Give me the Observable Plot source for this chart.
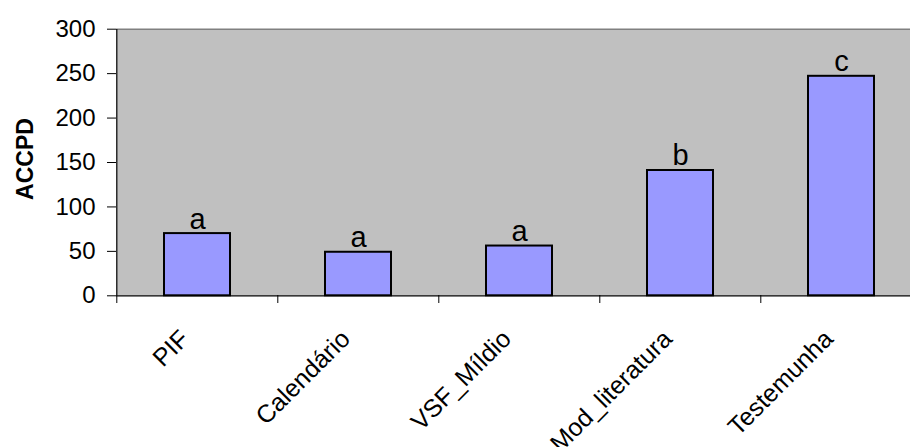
<!DOCTYPE html>
<html>
<head>
<meta charset="utf-8">
<script src="https://cdn.jsdelivr.net/npm/d3@7"></script>
<script src="https://cdn.jsdelivr.net/npm/@observablehq/plot@0.6"></script>
<style>
  html, body { margin: 0; padding: 0; background: #fff; overflow: hidden; }
  #chart svg { display: block; }
</style>
</head>
<body>
<div id="chart"></div>
<script>
const categories = ["PIF", "Calendário", "VSF_Míldio", "Mod_literatura", "Testemunha"];
const values = [70, 49, 56, 141, 247];
const letters = ["a", "a", "a", "b", "c"];
const yTicks = [0, 50, 100, 150, 200, 250, 300];

const data = categories.map((c, i) => ({cat: c, value: values[i], letter: letters[i]}));

const W = 910, H = 447;
const xRange = [115.5, 922.5];
const step = (xRange[1] - xRange[0]) / categories.length;
const font = "'Liberation Sans', Arial, sans-serif";

const chart = Plot.plot({
  width: W,
  height: H,
  marginLeft: 116,
  marginRight: 0,
  marginTop: 29,
  marginBottom: 152,
  style: {fontFamily: font, color: "black", background: "white", overflow: "hidden"},
  x: {domain: categories, range: xRange, paddingInner: 0.59, paddingOuter: 0.295, axis: null},
  y: {domain: [0, 300], range: [295.3, 28.7], axis: null},
  marks: [
    Plot.frame({fill: "#c0c0c0", stroke: null}),
    Plot.ruleY([300], {stroke: "#808080", strokeWidth: 1.5}),
    Plot.barY(data, {x: "cat", y: "value", fill: "#9999ff", stroke: "black", strokeWidth: 2}),
    Plot.text(data, {x: "cat", y: "value", text: "letter", lineAnchor: "bottom", dy: -5, fontSize: 29, fill: "black"}),
    Plot.ruleY([0], {stroke: "black", strokeWidth: 1.2}),
    Plot.ruleX([categories[0]], {dx: -step / 2, stroke: "black", strokeWidth: 1.2}),
    Plot.axisY({ticks: yTicks, label: null, tickSize: 9, tickPadding: 12, fontSize: 24, stroke: "black", fill: "black"}),
    Plot.axisX({ticks: categories, label: null, tickSize: 8, tickFormat: () => "", dx: -step / 2, stroke: "black"}),
    Plot.text(categories, {x: d => d, text: d => d, frameAnchor: "bottom", rotate: -45, textAnchor: "end", lineAnchor: "bottom", dx: -7, dy: 45, fontSize: 25, fill: "black"}),
    Plot.text(["ACCPD"], {frameAnchor: "left", rotate: -90, textAnchor: "middle", lineAnchor: "middle", dx: -91, dy: -3.5, fontSize: 23, fontWeight: "bold", fill: "black"})
  ]
});

document.getElementById("chart").appendChild(chart);
</script>
</body>
</html>
